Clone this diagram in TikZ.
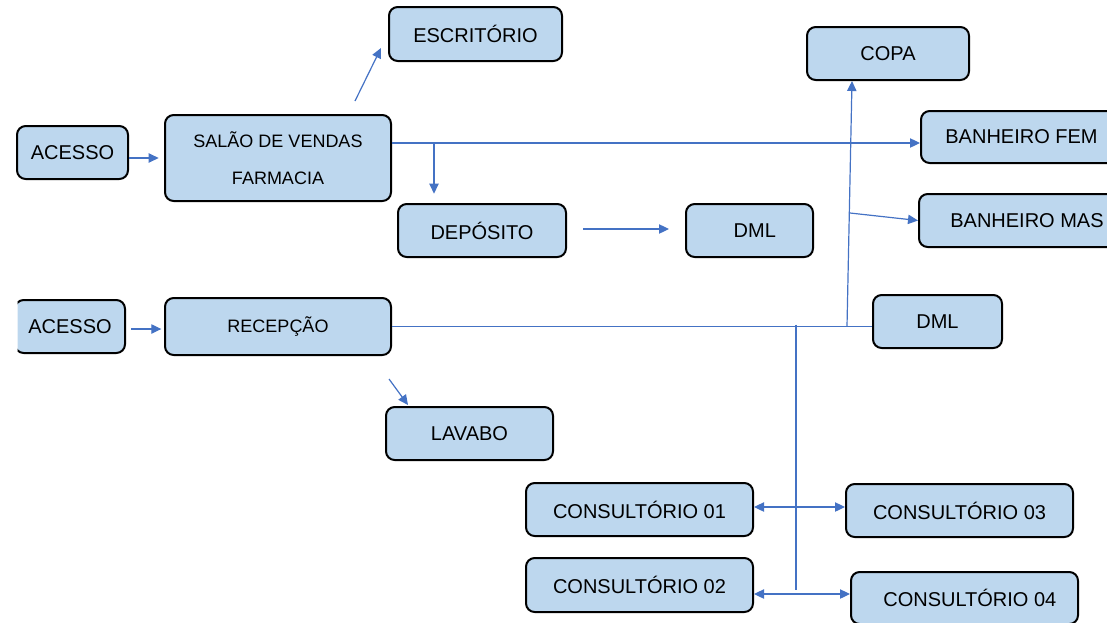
\documentclass[tikz,border=0pt]{standalone}
\usepackage{fontspec}
\setmainfont{Liberation Sans}
\usepackage{tikz}
\usetikzlibrary{calc,positioning,arrows.meta}
\definecolor{caixa}{HTML}{BDD7EE}
\definecolor{seta}{HTML}{4472C4}
\tikzset{
    block/.style={rectangle, rounded corners=6.5pt, draw=black, line width=1.5pt, fill=caixa,
        inner sep=0pt, minimum height=39.75pt, align=center, font=\fontsize{15}{18}\selectfont},
    small/.style={font=\fontsize{13.5}{16}\selectfont},
    line/.style={-{Triangle[length=7.5pt,width=7pt]}, draw=seta, line width=0.9pt},
    both/.style={{Triangle[length=7.5pt,width=7pt]}-{Triangle[length=7.5pt,width=7pt]}, draw=seta, line width=0.9pt},
    link/.style={draw=seta, line width=0.9pt},
}
\begin{document}
\begin{tikzpicture}
        [x=0.75pt, y=-0.75pt]
        \useasboundingbox (0,0) rectangle (1107,622);

        \node[block, minimum width=83.25pt] (acesso1) at (72.5,152.5) {ACESSO};
        \node[block, small, minimum width=169.5pt, minimum height=64.5pt] (salao) at (278,158)
            {SALÃO DE VENDAS\\[12pt]FARMACIA};
        \node[block, minimum width=129.75pt, minimum height=40.5pt] (escritorio) at (475.5,34) {ESCRITÓRIO};
        \node[block, minimum width=126pt] (deposito) at (482,230.5) {DEPÓSITO};
        \node[block, minimum width=95.25pt] (dml1) at (749.5,230.5) {\hspace{8pt}DML};
        \node[block, minimum width=121.5pt] (copa) at (888,53.5) {COPA};
        \node[block, minimum width=150.75pt, minimum height=39pt] (banhfem) at (1021.5,137) {BANHEIRO FEM};
        \node[block, minimum width=162pt] (banhmas) at (1027,220.5) {BANHEIRO MAS};
        \begin{scope}
            \clip (17.5,290) rectangle (140,365);
            \node[block, minimum width=82.5pt] (acesso2) at (70,326.5) {ACESSO};
        \end{scope}
        \node[block, small, minimum width=169.5pt, minimum height=42.75pt] (recepcao) at (278,326.5) {RECEPÇÃO};
        \node[block, minimum width=96.75pt] (dml2) at (937.5,321.5) {DML};
        \node[block, minimum width=125.25pt] (lavabo) at (469.5,433.5) {LAVABO};
        \node[block, minimum width=170.25pt] (cons1) at (639.5,509.5) {CONSULTÓRIO 01};
        \node[block, minimum width=170.25pt, minimum height=40.5pt] (cons2) at (639.5,585) {CONSULTÓRIO 02};
        \node[block, minimum width=170.25pt] (cons3) at (959.5,510.5) {CONSULTÓRIO 03};
        \node[block, minimum width=170.25pt, minimum height=39pt] (cons4) at (964.5,598) {\hspace{8pt}CONSULTÓRIO 04};

        % farmacia
        \coordinate (sv) at ($(salao.east)+(0,-15)$);
        \draw[line, shorten >=4pt] ($(acesso1.east)+(0,5.5)$) -- ($(salao.west |- acesso1.east)+(0,5.5)$);
        \draw[line] ($(salao.north)+(77,-13)$) -- ($(escritorio.west)+(-7,14)$);
        \draw[line] (sv) -- (banhfem.west |- sv);
        \draw[line, shorten >=7pt] ($(deposito.north |- sv)+(-48,0)$) -- ($(deposito.north)+(-48,0)$);
        \draw[line, shorten <=12pt, shorten >=12pt] ($(deposito.east)+(0,-1.5)$) -- ($(dml1.west)+(0,-1.5)$);

        % recepcao
        \draw[line, shorten <=4pt, shorten >=2pt] ($(acesso2.east)+(0,2.5)$) -- ($(recepcao.west)+(0,2.5)$);
        \draw[link] (recepcao.east) -- (recepcao.east -| dml2.west);
        \draw[line] ($(copa.south |- recepcao.east)+(-41,0)$) -- ($(copa.south)+(-36,0)$);
        \draw[line] ($(copa.south)+(-38,132)$) -- (banhmas.west);
        \draw[line] ($(recepcao.south east)+(-3,23)$) -- ($(lavabo.north west)+(23,-1)$);

        % consultorios
        \coordinate (eixo) at ($(recepcao.east -| cons1.east)+(42,-2)$);
        \draw[link] (eixo) -- ($(eixo |- cons2.east)+(0,5)$);
        \draw[both] ($(cons1.east)+(0,-2.5)$) -- ($(cons1.east -| cons3.west)+(0,-2.5)$);
        \draw[both] ($(cons2.east)+(0,9)$) -- ($(cons2.east -| cons4.west)+(0,9)$);

    \end{tikzpicture}
\end{document}
